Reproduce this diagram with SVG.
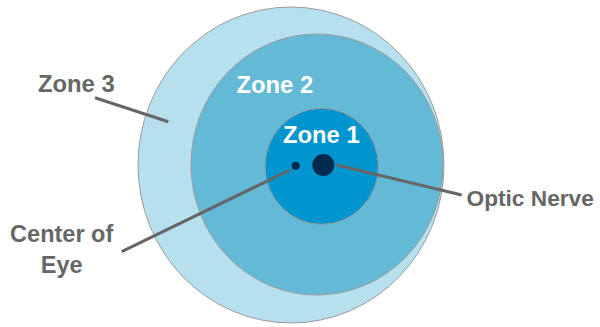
<svg xmlns="http://www.w3.org/2000/svg" width="600" height="327" viewBox="0 0 600 327">
<style>
.zone{stroke:#9a9a9a;stroke-width:1}
.lbl{font-family:"Liberation Sans",Arial,sans-serif;font-weight:bold;font-size:23.5px;fill:#666666}
.in{font-family:"Liberation Sans",Arial,sans-serif;font-weight:bold;font-size:23.8px;fill:#ffffff}
.conn{stroke:#666666;stroke-width:3;fill:none}
.dot{fill:#002a4e}
</style>
<rect width="600" height="327" fill="#ffffff"/>
<g id="zone3">
<ellipse class="zone" cx="291" cy="165" rx="153" ry="158" fill="#b7e0ee"/>
</g>
<g id="zone2">
<ellipse class="zone" cx="317" cy="164.5" rx="126" ry="130.5" fill="#63b9d6"/>
<text class="in" x="236.5" y="93">Zone 2</text>
</g>
<g id="zone1">
<ellipse class="zone" cx="321.7" cy="166.3" rx="56.7" ry="58" fill="#0095cf"/>
<text class="in" x="283" y="143">Zone 1</text>
</g>
<g id="center-dot">
<circle class="dot" cx="295.7" cy="165.7" r="4"/>
</g>
<g id="optic-dot">
<circle class="dot" cx="323.3" cy="165" r="11"/>
</g>
<g id="connectors">
<line class="conn" x1="95" y1="97.7" x2="168.3" y2="121.7"/>
<line class="conn" x1="121.7" y1="251.7" x2="290" y2="170"/>
<line class="conn" x1="336.7" y1="165" x2="461.7" y2="195"/>
</g>
<g id="label-zone3">
<text class="lbl" x="38" y="91.5" style="font-size:23.8px">Zone 3</text>
</g>
<g id="label-center">
<text class="lbl" x="61.7" y="241.5" text-anchor="middle">Center of</text>
<text class="lbl" x="61.7" y="273" text-anchor="middle">Eye</text>
</g>
<g id="label-optic">
<text class="lbl" x="466.5" y="206" style="font-size:22.7px">Optic Nerve</text>
</g>
</svg>
